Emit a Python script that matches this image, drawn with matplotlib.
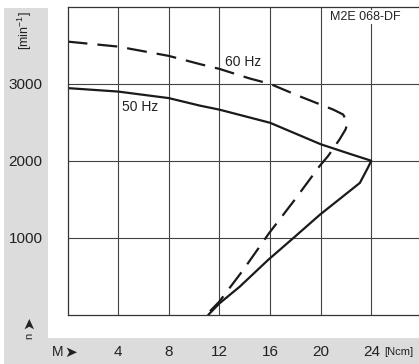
import matplotlib
matplotlib.use("Agg")
import matplotlib.pyplot as plt
from matplotlib.patches import Rectangle

plt.rcParams['font.family'] = ['Liberation Sans', 'DejaVu Sans']

# 50 Hz curve (torque Ncm, speed min-1)
m_50 = [0, 4, 8, 10.46, 12, 16, 20, 22.3, 24, 23.75, 23.1, 19.94, 17.83, 15.85, 13.6, 12, 11.15]
n_50 = [2945, 2900, 2815, 2717, 2665, 2494, 2215, 2090, 2000, 1915, 1712, 1298, 993, 710, 361, 144, 0]

# 60 Hz curve
m_60 = [0, 4, 8, 10.46, 12, 14.4, 16, 18.36, 21, 21.78, 22.12, 21.97, 21.5, 20.6, 19.94,
        17.96, 15.93, 13.88, 11.98, 11.0]
n_60 = [3550, 3485, 3364, 3257, 3195, 3070, 3000, 2837, 2665, 2601, 2494, 2408, 2279, 2064, 1936,
        1494, 1059, 579, 165, 0]

x_ticks = [4, 8, 12, 16, 20, 24]
y_ticks = [1000, 2000, 3000]

fig = plt.figure(figsize=(4.19, 3.64), dpi=100)
fig.patch.set_facecolor('white')

# grey label bands
gray = '#dcdcdc'
fig.patches.append(Rectangle((4 / 419, 0), 44 / 419, 356 / 364, transform=fig.transFigure,
                             facecolor=gray, edgecolor='none', zorder=-1))
fig.patches.append(Rectangle((4 / 419, 0), 415 / 419, 26 / 364, transform=fig.transFigure,
                             facecolor=gray, edgecolor='none', zorder=-1))

ax = fig.add_axes([67.5 / 419, 1 - 314.5 / 364, 351.5 / 419, 307.5 / 364])
ax.patch.set_alpha(0)
ax.set_xlim(0, 27.77)
ax.set_ylim(0, 4000)

ax.set_xticks(x_ticks)
ax.set_yticks(y_ticks)
ax.set_xticklabels([str(v) for v in x_ticks])
ax.set_yticklabels([str(v) for v in y_ticks])
ax.tick_params(length=0, labelsize=11, colors='#222222')
ax.tick_params(axis='y', pad=18)
ax.tick_params(axis='x', pad=22)
ax.grid(True, color='#444444', lw=0.8)
ax.set_axisbelow(True)
for side in ['left', 'top', 'bottom']:
    ax.spines[side].set_color('#333333')
    ax.spines[side].set_linewidth(0.9)
ax.spines['right'].set_visible(False)

ax.plot(m_50, n_50, color='#1a1a1a', lw=1.6, solid_joinstyle='round')
ax.plot(m_60, n_60, color='#1a1a1a', lw=1.6, dashes=(9, 4.5))

ax.text(4.3, 2700, '50 Hz', fontsize=10, va='center', ha='left', color='#222222')
ax.text(12.45, 3290, '60 Hz', fontsize=10, va='center', ha='left', color='#222222')
ax.text(20.7, 3870, 'M2E 068-DF', fontsize=9, va='center', ha='left', color='#222222',
        bbox=dict(facecolor='white', edgecolor='none', pad=1))

fig.text(25 / 419, 1 - 31 / 364, r'[min$^{\mathregular{-1}}$]', rotation=90,
         fontsize=9, ha='center', va='center', color='#222222')
fig.text(29 / 419, 1 - 323 / 364, '➤', rotation=90, family='DejaVu Sans',
         fontsize=11, ha='center', va='center', color='#222222')
fig.text(29 / 419, 1 - 336 / 364, 'n', rotation=90, fontsize=8,
         ha='center', va='center', color='#222222')
fig.text(52 / 419, 1 - 352 / 364, 'M', fontsize=10, ha='left', va='center', color='#222222')
fig.text(64 / 419, 1 - 352 / 364, '➤', family='DejaVu Sans', fontsize=11,
         ha='left', va='center', color='#222222')
fig.text(384 / 419, 1 - 352 / 364, '[Ncm]', fontsize=8, ha='left', va='center',
         color='#222222')

fig.savefig('out.png', dpi=100)
